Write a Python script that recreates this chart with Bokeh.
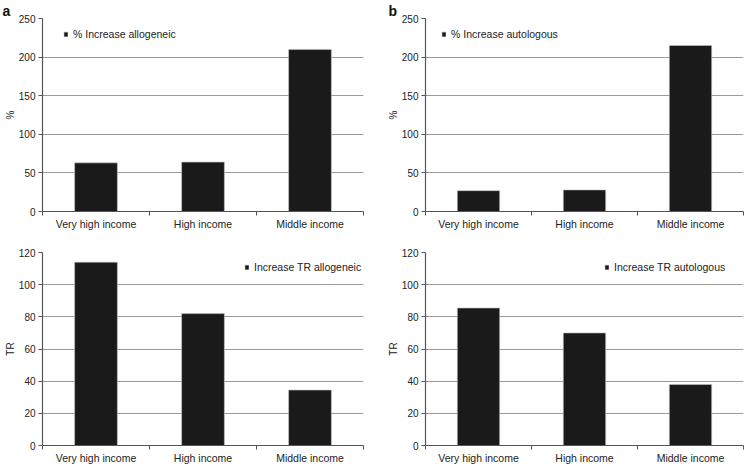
from bokeh.plotting import figure
from bokeh.models import (ColumnDataSource, FixedTicker, Legend, LegendItem, Range1d)
from bokeh.layouts import column, row
from bokeh.embed import file_html
from bokeh.resources import INLINE

categories = ["Very high income", "High income", "Middle income"]

pct_allogeneic = [63, 64, 210]
pct_autologous = [27, 28, 215]
tr_allogeneic = [114, 82, 34.5]
tr_autologous = [85.5, 70, 38]

pct_ticks = [0, 50, 100, 150, 200, 250]
tr_ticks = [0, 20, 40, 60, 80, 100, 120]

FONT = "Liberation Sans"
TEXT = "#222222"


def panel(values, series_name, ylabel, yticks, width, height, left, right, top, bottom,
          legend_loc, tag=None):
    n = len(categories)
    xs = [i + 0.5 for i in range(n)]
    src = ColumnDataSource(dict(x=xs, top=values, cat=categories))
    p = figure(width=width, height=height, output_backend="svg", toolbar_location=None,
               x_range=Range1d(0, n), y_range=Range1d(yticks[0], yticks[-1]),
               min_border_left=left, min_border_right=right,
               min_border_top=top, min_border_bottom=bottom)
    p.outline_line_color = None
    p.border_fill_color = "white"
    r = p.vbar(x="x", top="top", bottom=0, width=0.4, source=src,
               fill_color="#1a1a1a", line_color="#c8c8c8", line_width=0.6)

    p.xaxis.ticker = FixedTicker(ticks=xs, minor_ticks=list(range(n + 1)))
    p.xaxis.major_label_overrides = {x: c for x, c in zip(xs, categories)}
    p.xaxis.major_tick_out = 0
    p.xaxis.major_tick_in = 0
    p.xaxis.minor_tick_out = 4
    p.xaxis.minor_tick_in = 0
    p.xaxis.minor_tick_line_color = "#555555"
    p.xaxis.major_label_standoff = 2
    p.xaxis.major_label_text_font_size = "10.5px"
    p.yaxis.ticker = FixedTicker(ticks=yticks)
    p.yaxis.major_tick_out = 4
    p.yaxis.major_tick_in = 0
    p.yaxis.minor_tick_line_color = None
    p.yaxis.major_label_standoff = 3
    p.yaxis.major_label_text_font_size = "10px"
    p.yaxis.axis_label = ylabel
    p.yaxis.axis_label_standoff = 0
    for ax in (p.xaxis, p.yaxis):
        ax.axis_line_color = "#555555"
        ax.axis_line_width = 1.2
        ax.major_tick_line_color = "#555555"
        ax.major_label_text_font = FONT
        ax.major_label_text_color = TEXT
        ax.axis_label_text_font = FONT
        ax.axis_label_text_font_size = "10px"
        ax.axis_label_text_font_style = "normal"
        ax.axis_label_text_color = TEXT
    p.xgrid.grid_line_color = None
    p.ygrid.grid_line_color = "#9a9a9a"
    p.ygrid.grid_line_width = 1
    p.ygrid.ticker = FixedTicker(ticks=yticks)

    legend = Legend(items=[LegendItem(label=series_name, renderers=[r])],
                    location=legend_loc, orientation="vertical",
                    glyph_width=5, glyph_height=6, label_standoff=5,
                    label_text_font=FONT, label_text_font_size="10.5px",
                    label_text_color=TEXT, label_height=8,
                    padding=0, margin=0, border_line_color=None,
                    background_fill_alpha=0, spacing=0)
    p.add_layout(legend)

    if tag is not None:
        p.title.text = tag[0]
        p.title.align = "left"
        p.title.offset = tag[1]
        p.title.standoff = 0
        p.title.text_font = FONT
        p.title.text_font_size = "14px"
        p.title.text_font_style = "bold"
        p.title.text_color = "#111111"
    return p


pa = panel(pct_allogeneic, "% Increase allogeneic", "%", pct_ticks,
           372, 232, 42, 9, 16, 21, (21, 171), ("a", -40))
pb = panel(pct_autologous, "% Increase autologous", "%", pct_ticks,
           372, 232, 53, 1, 16, 21, (16, 171), ("b", -37))
pc = panel(tr_allogeneic, "Increase TR allogeneic", "TR", tr_ticks,
           372, 234, 42, 9, 20, 19, (202, 172))
pd = panel(tr_autologous, "Increase TR autologous", "TR", tr_ticks,
           372, 234, 53, 1, 20, 19, (179, 172))

layout = column(row(pa, pb), row(pc, pd))
open("out.html", "w").write(file_html(layout, INLINE))
